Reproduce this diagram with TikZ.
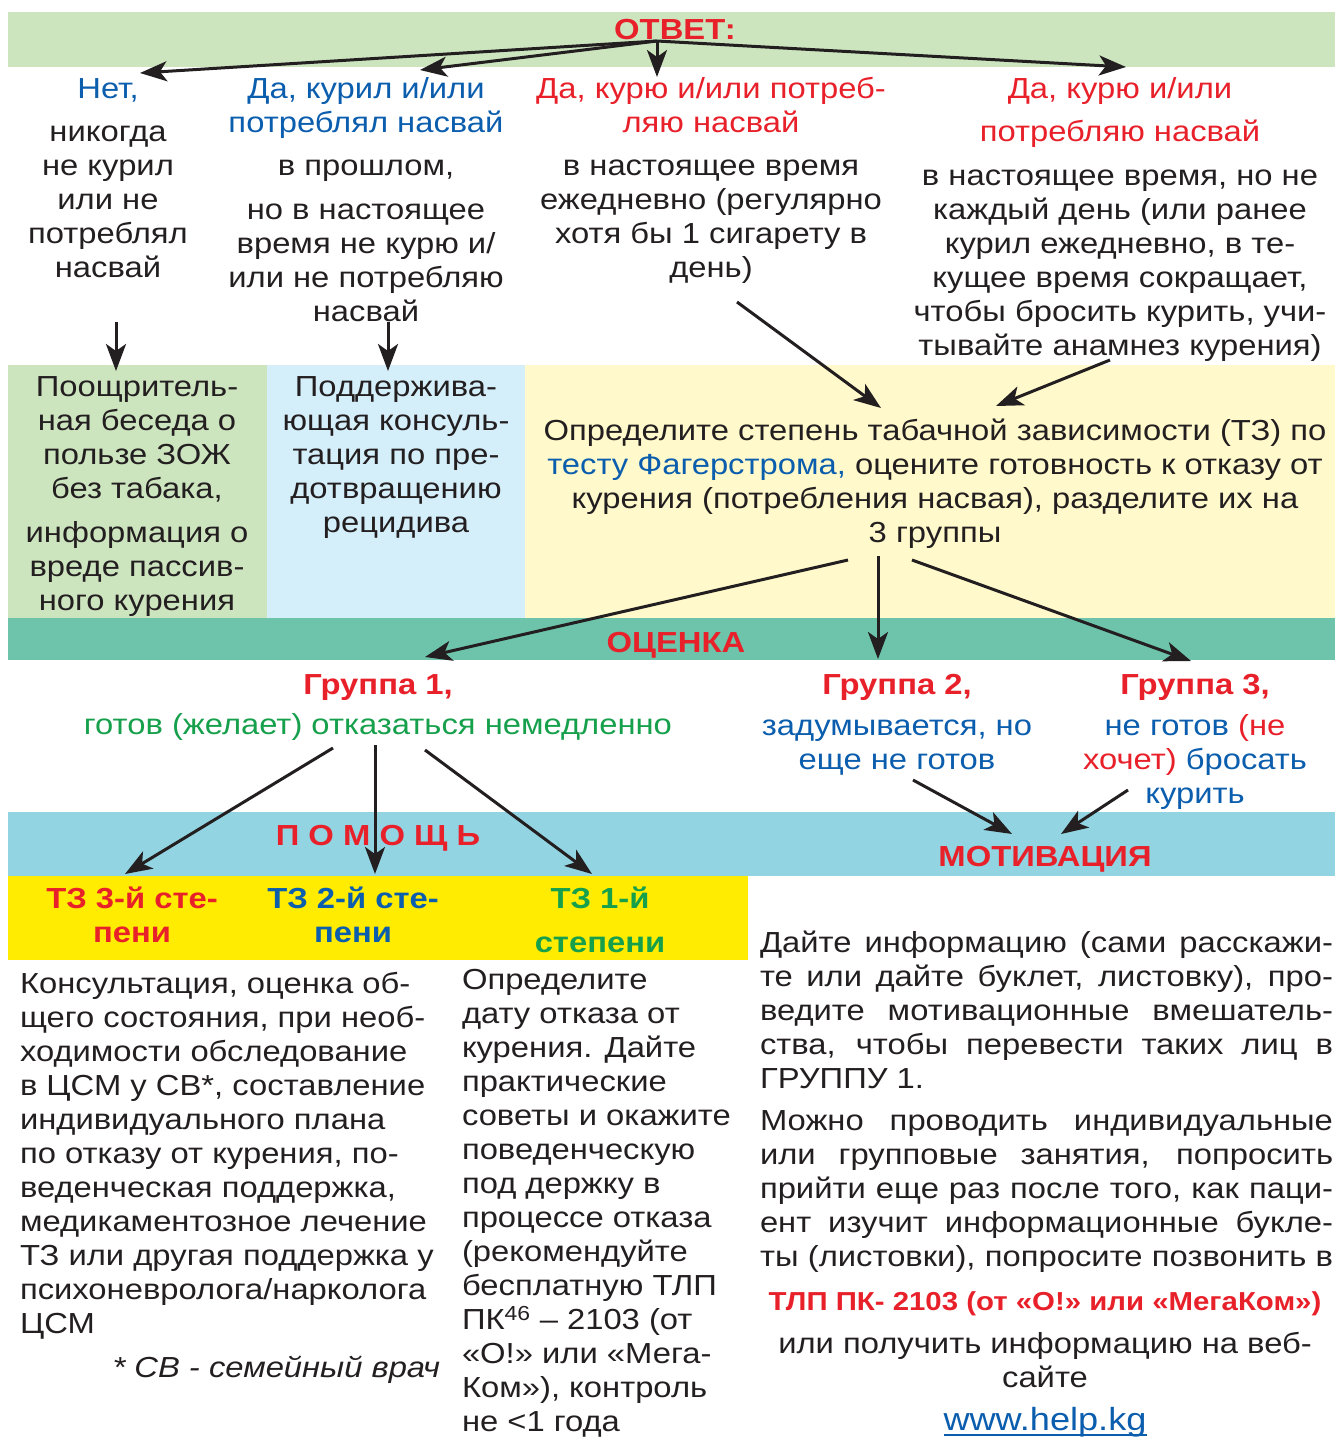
\documentclass[tikz,border=0pt]{standalone}
\usepackage{fontspec}
\setmainfont{Liberation Sans}[FakeStretch=1.13]
\usetikzlibrary{arrows.meta}
\definecolor{bandgreen}{HTML}{CDE5BF}
\definecolor{bandblue}{HTML}{D4EEFA}
\definecolor{bandcream}{HTML}{FFF9CB}
\definecolor{bandteal}{HTML}{6EC4AB}
\definecolor{bandcyan}{HTML}{93D4E2}
\definecolor{bandyellow}{HTML}{FFEC00}
\definecolor{txtred}{HTML}{E8202A}
\definecolor{txtblue}{HTML}{0B5DAD}
\definecolor{txtgreen}{HTML}{16A04C}
\definecolor{ink}{HTML}{231F20}
\newcommand\fs{\fontsize{29}{34}\selectfont}
\newcommand\jl[1]{\makebox[573pt][s]{#1}}
\begin{document}
\begin{tikzpicture}[x=1pt,y=-1pt,
  every node/.style={inner sep=0pt, outer sep=0pt},
  txt/.style={align=center, anchor=north, font=\fs, text=ink},
  ltxt/.style={align=left, anchor=north west, font=\fs, text=ink},
  head/.style={anchor=base, font=\fs\bfseries, text=txtred},
  arr/.style={draw=ink, line width=3pt, -{Stealth[length=27pt,width=20pt,inset=7pt]}}]
\useasboundingbox (0,0) rectangle (1335,1438);
% bands
\fill[bandgreen] (8,12) rectangle (1335,67);
\fill[bandgreen] (8,365) rectangle (267,618);
\fill[bandblue] (267,365) rectangle (525,618);
\fill[bandcream] (525,365) rectangle (1335,618);
\fill[bandteal] (8,618) rectangle (1335,660);
\fill[bandcyan] (8,812) rectangle (1335,876);
\fill[bandyellow] (8,876) rectangle (748,960);
% band titles
\node[head] (otvet) at (675,39) {ОТВЕТ:};
\node[head] (ocenka) at (676,652) {ОЦЕНКА};
\node[head] (pomosh) at (378,845) {П О М О Щ Ь};
\node[head] (motiv) at (1045,866) {МОТИВАЦИЯ};
\begin{scope}[yshift=-3pt]
% row 2
\node[txt, text=txtblue] (n1h) at (108,72) {\strut Нет,};
\node[txt] (n1b) at (108,115) {\strut никогда\\не курил\\или не\\потреблял\\насвай};
\node[txt, text=txtblue] (n2h) at (366,72) {\strut Да, курил и/или\\потреблял насвай};
\node[txt] (n2a) at (366,149) {\strut в прошлом,};
\node[txt] (n2b) at (366,193) {\strut но в настоящее\\время не курю и/\\или не потребляю\\насвай};
\node[txt, text=txtred] (n3h) at (711,72) {\strut Да, курю и/или потреб-\\ляю насвай};
\node[txt] (n3b) at (711,149) {\strut в настоящее время\\ежедневно (регулярно\\хотя бы 1 сигарету в\\день)};
\node[txt, text=txtred] (n4h) at (1120,72) {\strut Да, курю и/или\\[9pt]потребляю насвай};
\node[txt] (n4b) at (1120,159) {\strut в настоящее время, но не\\каждый день (или ранее\\курил ежедневно, в те-\\кущее время сокращает,\\чтобы бросить курить, учи-\\тывайте анамнез курения)};
% row 3
\node[txt] (r1) at (137,370) {\strut Поощритель-\\ная беседа о\\пользе ЗОЖ\\без табака,\\[10pt]информация о\\вреде пассив-\\ного курения};
\node[txt] (r2) at (396,370) {\strut Поддержива-\\ющая консуль-\\тация по пре-\\дотвращению\\рецидива};
\node[txt] (r3) at (935,414) {\strut Определите степень табачной зависимости (ТЗ) по\\\textcolor{txtblue}{тесту Фагерстрома,} оцените готовность к отказу от\\курения (потребления насвая), разделите их на\\3 группы};
% row 4
\node[txt, font=\fs\bfseries, text=txtred] (g1h) at (378,668) {\strut Группа 1,};
\node[txt, text=txtgreen] (g1b) at (378,708) {\strut готов (желает) отказаться немедленно};
\node[txt, font=\fs\bfseries, text=txtred] (g2h) at (897,668) {\strut Группа 2,};
\node[txt, text=txtblue] (g2b) at (897,709) {\strut задумывается, но\\еще не готов};
\node[txt, font=\fs\bfseries, text=txtred] (g3h) at (1195,668) {\strut Группа 3,};
\node[txt, text=txtblue] (g3b) at (1195,709) {\strut не готов \textcolor{txtred}{(не}\\\textcolor{txtred}{хочет)} бросать\\курить};
% yellow band labels
\node[txt, font=\fs\bfseries, text=txtred] (tz3) at (132,882) {\strut ТЗ 3-й сте-\\пени};
\node[txt, font=\fs\bfseries, text=txtblue] (tz2) at (353,882) {\strut ТЗ 2-й сте-\\пени};
\node[txt, font=\fs\bfseries, text=txtgreen] (tz1) at (600,882) {\strut ТЗ 1-й\\[10pt]степени};
% bottom texts
\node[ltxt] (b1) at (20,967) {\strut Консультация, оценка об-\\щего состояния, при необ-\\ходимости обследование\\в ЦСМ у СВ*, составление\\индивидуального плана\\по отказу от курения, по-\\веденческая поддержка,\\медикаментозное лечение\\ТЗ или другая поддержка у\\психоневролога/нарколога\\ЦСМ};
\node[anchor=base east, font=\fs\itshape, text=ink] (foot) at (440,1374) {* СВ - семейный врач};
\node[ltxt] (b2) at (462,963) {\strut Определите\\дату отказа от\\курения. Дайте\\практические\\советы и окажите\\поведенческую\\под держку в\\процессе отказа\\(рекомендуйте\\бесплатную ТЛП\\ПК\textsuperscript{46} – 2103 (от\\«О!» или «Мега-\\Ком»), контроль\\не <1 года};
\node[ltxt] (b3a) at (760,926) {\strut\jl{Дайте информацию (сами расскажи-}\\\jl{те или дайте буклет, листовку), про-}\\\jl{ведите мотивационные вмешатель-}\\\jl{ства, чтобы перевести таких лиц в}\\ГРУППУ 1.};
\node[ltxt] (b3b) at (760,1104) {\strut\jl{Можно проводить индивидуальные}\\\jl{или групповые занятия, попросить}\\\jl{прийти еще раз после того, как паци-}\\\jl{ент изучит информационные букле-}\\\jl{ты (листовки), попросите позвонить в}};
\node[anchor=base, font=\fontsize{26}{30}\selectfont\bfseries, text=txtred] (tlp) at (1045,1307) {ТЛП ПК- 2103 (от «О!» или «МегаКом»)};
\node[txt] (web) at (1045,1327) {\strut или получить информацию на веб-\\сайте};
\end{scope}
\node[anchor=base, font=\fontsize{32}{36}\selectfont, text=txtblue] (url) at (1045,1430) {www.help.kg};
\draw[txtblue, line width=1.8pt] ([yshift=-5pt]url.base west) -- ([yshift=-5pt]url.base east);
% connector coordinates
\coordinate (hub) at (657,41);
\coordinate (e1) at (140,73);
\coordinate (e2) at (420,70);
\coordinate (e3) at (657,77);
\coordinate (e4) at (1126,67);
\coordinate (s5) at (116,322); \coordinate (e5) at (116,371);
\coordinate (s6) at (388,322); \coordinate (e6) at (388,371);
\coordinate (s7) at (737,302); \coordinate (e7) at (881,408);
\coordinate (s8) at (1110,360); \coordinate (e8) at (996,406);
\coordinate (s9) at (848,560); \coordinate (e9) at (425,657);
\coordinate (s10) at (878,556); \coordinate (e10) at (878,659);
\coordinate (s11) at (912,560); \coordinate (e11) at (1191,661);
\coordinate (s12) at (333,748); \coordinate (e12) at (125,874);
\coordinate (s13) at (375,745); \coordinate (e13) at (375,874);
\coordinate (s14) at (425,750); \coordinate (e14) at (592,874);
\coordinate (s15) at (913,780); \coordinate (e15) at (1012,834);
\coordinate (s16) at (1128,790); \coordinate (e16) at (1061,834);
% connectors
\draw[arr] (hub) -- (e1);
\draw[arr] (hub) -- (e2);
\draw[arr] (hub) -- (e3);
\draw[arr] (hub) -- (e4);
\draw[arr] (s5) -- (e5);
\draw[arr] (s6) -- (e6);
\draw[arr] (s7) -- (e7);
\draw[arr] (s8) -- (e8);
\draw[arr] (s9) -- (e9);
\draw[arr] (s10) -- (e10);
\draw[arr] (s11) -- (e11);
\draw[arr] (s12) -- (e12);
\draw[arr] (s13) -- (e13);
\draw[arr] (s14) -- (e14);
\draw[arr] (s15) -- (e15);
\draw[arr] (s16) -- (e16);
\end{tikzpicture}
\end{document}
